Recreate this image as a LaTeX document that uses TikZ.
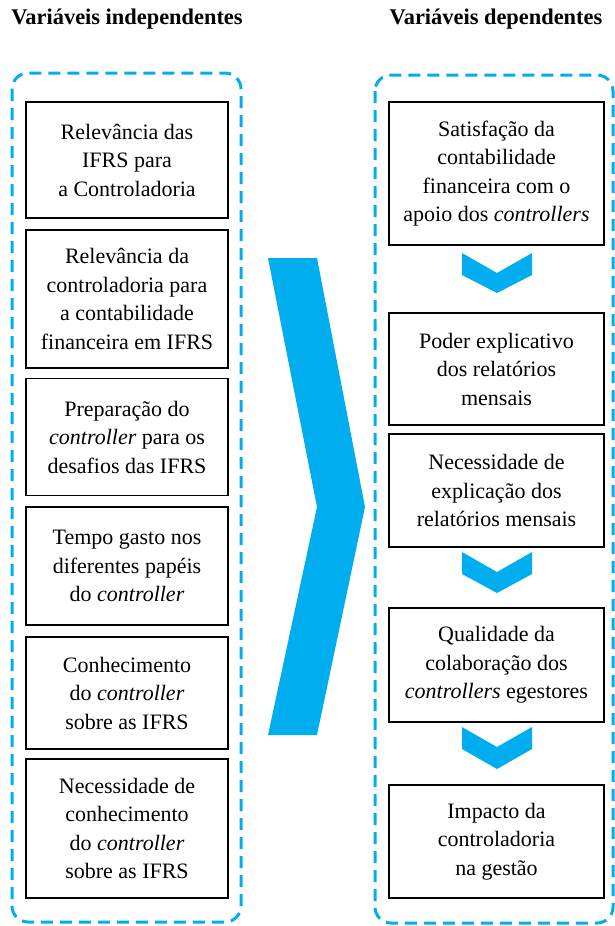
\documentclass[tikz,border=0pt]{standalone}
\usepackage{fontspec}
\setmainfont{Liberation Serif}
\usepackage{tikz}
\definecolor{procyan}{HTML}{00AEEF}
\tikzstyle{vb} = [draw, line width=1.6pt, align=center, inner sep=0pt, font=\fontsize{22}{28.5}\selectfont]
\tikzstyle{grp} = [draw=procyan, line width=3pt, dash pattern=on 12pt off 7pt, rounded corners=16pt]
\tikzstyle{chev} = [fill=procyan]
\tikzstyle{ttl} = [font=\fontsize{22.4}{26}\selectfont\bfseries]

\begin{document}
\begin{tikzpicture}[yscale=-1]
			\useasboundingbox (0pt,0pt) rectangle (615pt,926pt);
			\node[ttl] (tind) at (127pt,19pt) {Variáveis independentes};
			\node[ttl] (tdep) at (496pt,19pt) {Variáveis dependentes};
			\draw[grp] (12pt,73pt) rectangle (241pt,922pt);
			\draw[grp] (375pt,75pt) rectangle (613pt,923pt);
			% independentes
			\node[vb, minimum width=202pt, minimum height=116pt] (iv1) at (127pt,160pt) {Relevância das\\IFRS para\\a Controladoria};
			\node[vb, minimum width=202pt, minimum height=138pt] (iv2) at (127pt,299pt) {Relevância da\\controladoria para\\a contabilidade\\financeira em IFRS};
			\node[vb, minimum width=202pt, minimum height=117pt] (iv3) at (127pt,437pt) {Preparação do\\\textit{controller} para os\\desafios das IFRS};
			\node[vb, minimum width=202pt, minimum height=118pt] (iv4) at (127pt,566pt) {Tempo gasto nos\\diferentes papéis\\do \textit{controller}};
			\node[vb, minimum width=202pt, minimum height=112pt] (iv5) at (127pt,693pt) {Conhecimento\\do \textit{controller}\\sobre as IFRS};
			\node[vb, minimum width=202pt, minimum height=139pt] (iv6) at (127pt,828.5pt) {Necessidade de\\conhecimento\\do \textit{controller}\\sobre as IFRS};
			% seta grande
			\fill[chev] (268pt,258pt) -- (317pt,258pt) -- (365pt,507pt) -- (317pt,735pt) -- (268pt,735pt) -- (317pt,507pt) -- cycle;
			% dependentes
			\node[vb, minimum width=215pt, minimum height=143pt] (dv1) at (496.5pt,173.5pt) {Satisfação da\\contabilidade\\financeira com o\\apoio dos \textit{controllers}};
			\node[vb, minimum width=215pt, minimum height=112pt] (dv2) at (496.5pt,369pt) {Poder explicativo\\dos relatórios\\mensais};
			\node[vb, minimum width=215pt, minimum height=113pt] (dv3) at (496.5pt,490.5pt) {Necessidade de\\explicação dos\\relatórios mensais};
			\node[vb, minimum width=215pt, minimum height=114pt] (dv4) at (496.5pt,665pt) {Qualidade da\\colaboração dos\\\textit{controllers} egestores};
			\node[vb, minimum width=215pt, minimum height=113pt] (dv5) at (496.5pt,841.5pt) {Impacto da\\controladoria\\na gestão};
			\fill[chev] (462pt,253pt) -- (497pt,273pt) -- (532pt,253pt) -- (532pt,275pt) -- (497pt,293pt) -- (462pt,275pt) -- cycle;
			\fill[chev] (462pt,552pt) -- (497pt,572pt) -- (532pt,552pt) -- (532pt,574pt) -- (497pt,593pt) -- (462pt,574pt) -- cycle;
			\fill[chev] (462pt,727pt) -- (497pt,747pt) -- (532pt,727pt) -- (532pt,749pt) -- (497pt,769pt) -- (462pt,749pt) -- cycle;
		\end{tikzpicture}
\end{document}
